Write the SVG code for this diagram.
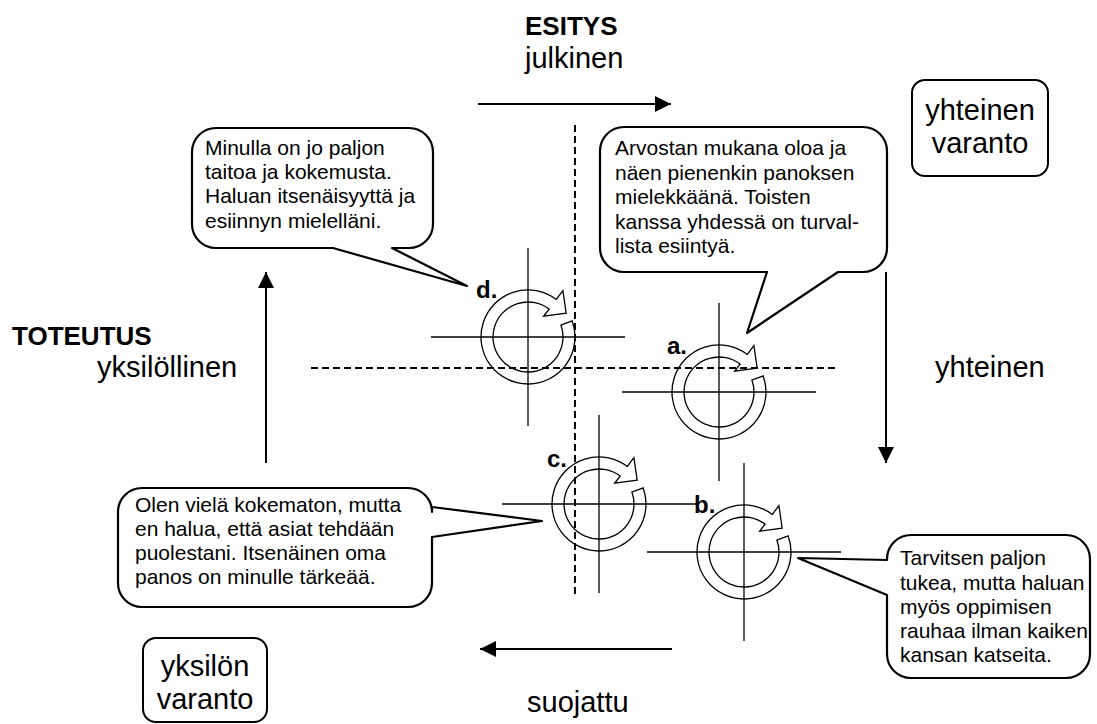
<svg xmlns="http://www.w3.org/2000/svg" width="1097" height="724" viewBox="0 0 1097 724">
  <style>
    .t { font-family: "Liberation Sans", Arial, sans-serif; fill: #000; }
    .lbl { font-size: 29px; }
    .head { font-size: 26px; font-weight: bold; }
    .mark { font-size: 24px; font-weight: bold; }
    .say { font-size: 21px; }
    .edge { stroke: #000; stroke-width: 2; fill: none; }
    .dash { stroke: #000; stroke-width: 2; stroke-dasharray: 7 4; fill: none; }
    .bubble { fill: #fff; stroke: #000; stroke-width: 2.2; stroke-linejoin: round; }
    .box { fill: #fff; stroke: #000; stroke-width: 2; }
    .cross { stroke: #000; stroke-width: 1.3; }
    .ring { fill: none; stroke: #000; stroke-width: 1.3; stroke-linejoin: miter; }
  </style>
  <defs>
    <marker id="tip" markerUnits="userSpaceOnUse" markerWidth="16" markerHeight="16" refX="16" refY="8" orient="auto">
      <path d="M0,0 L16,8 L0,16 Z" fill="#000"/>
    </marker>
    <!-- crosshair with a circular clockwise arrow -->
    <g id="cycle">
      <line class="cross" x1="-97" y1="0" x2="97" y2="0"/>
      <line class="cross" x1="0" y1="-89" x2="0" y2="89"/>
      <path class="ring" d="M44.17,-16.07 A47,47 0 1 1 28.29,-37.54 L34.9,-46.32 L38.16,-23.85 L15.65,-20.76 L21.06,-27.95 A35,35 0 1 0 32.89,-11.97 Z"/>
    </g>
  </defs>

  <!-- axes and dashed quadrant lines -->
  <g id="connectors">
    <line class="dash" x1="575" y1="125" x2="575" y2="598"/>
    <line class="dash" x1="311" y1="368" x2="836" y2="368"/>
    <line class="edge" x1="478" y1="104" x2="671" y2="104" marker-end="url(#tip)"/>
    <line class="edge" x1="886" y1="272" x2="886" y2="463" marker-end="url(#tip)"/>
    <line class="edge" x1="672" y1="649" x2="480" y2="649" marker-end="url(#tip)"/>
    <line class="edge" x1="266" y1="463" x2="266" y2="272" marker-end="url(#tip)"/>
  </g>

  <!-- axis captions -->
  <g id="axis-top">
    <text class="t head" x="525" y="35">ESITYS</text>
    <text class="t lbl" x="525" y="68">julkinen</text>
  </g>
  <g id="axis-left">
    <text class="t head" x="12" y="345">TOTEUTUS</text>
    <text class="t lbl" x="97" y="377">yksilöllinen</text>
  </g>
  <g id="axis-right">
    <text class="t lbl" x="935" y="377">yhteinen</text>
  </g>
  <g id="axis-bottom">
    <text class="t lbl" x="527" y="712">suojattu</text>
  </g>

  <g id="box-shared">
    <rect class="box" x="912" y="80" width="136" height="96" rx="13"/>
    <text class="t lbl" x="980" y="120" text-anchor="middle">yhteinen</text>
    <text class="t lbl" x="980" y="153" text-anchor="middle">varanto</text>
  </g>
  <g id="box-individual">
    <rect class="box" x="143" y="638" width="124" height="84" rx="13"/>
    <text class="t lbl" x="205" y="676" text-anchor="middle">yksilön</text>
    <text class="t lbl" x="205" y="709" text-anchor="middle">varanto</text>
  </g>

  <!-- four positions -->
  <g id="node-d">
    <use href="#cycle" x="528" y="337"/>
    <text class="t mark" x="476" y="298">d.</text>
  </g>
  <g id="node-a">
    <use href="#cycle" x="719" y="392"/>
    <text class="t mark" x="667" y="354">a.</text>
  </g>
  <g id="node-c">
    <use href="#cycle" x="599" y="504"/>
    <text class="t mark" x="547" y="467">c.</text>
  </g>
  <g id="node-b">
    <use href="#cycle" x="744" y="552"/>
    <text class="t mark" x="694" y="513">b.</text>
  </g>

  <!-- speech bubbles -->
  <g id="bubble-d">
    <path class="bubble" d="M216,128 H409 A24,24 0 0 1 433,152 V224 A24,24 0 0 1 409,248 H392 L467,286 L333,248 H216 A24,24 0 0 1 192,224 V152 A24,24 0 0 1 216,128 Z"/>
    <text class="t say" x="205" y="155">Minulla on jo paljon</text>
    <text class="t say" x="205" y="179">taitoa ja kokemusta.</text>
    <text class="t say" x="205" y="203">Haluan itsenäisyyttä ja</text>
    <text class="t say" x="205" y="228">esiinnyn mielelläni.</text>
  </g>
  <g id="bubble-a">
    <path class="bubble" d="M624,127 H863 A24,24 0 0 1 887,151 V248 A24,24 0 0 1 863,272 H838 L747,333 L767,272 H624 A24,24 0 0 1 600,248 V151 A24,24 0 0 1 624,127 Z"/>
    <text class="t say" x="615" y="155">Arvostan mukana oloa ja</text>
    <text class="t say" x="615" y="180">näen pienenkin panoksen</text>
    <text class="t say" x="615" y="204">mielekkäänä. Toisten</text>
    <text class="t say" x="615" y="229">kanssa yhdessä on turval-</text>
    <text class="t say" x="615" y="253">lista esiintyä.</text>
  </g>
  <g id="bubble-c">
    <path class="bubble" d="M142,488 H408 A24,24 0 0 1 432,512 V507 L542,521 L432,537 V583 A24,24 0 0 1 408,607 H142 A24,24 0 0 1 118,583 V512 A24,24 0 0 1 142,488 Z"/>
    <text class="t say" x="135" y="512">Olen vielä kokematon, mutta</text>
    <text class="t say" x="135" y="536">en halua, että asiat tehdään</text>
    <text class="t say" x="135" y="560">puolestani. Itsenäinen oma</text>
    <text class="t say" x="135" y="584">panos on minulle tärkeää.</text>
  </g>
  <g id="bubble-b">
    <path class="bubble" d="M911,535 H1066 A24,24 0 0 1 1090,559 V654 A24,24 0 0 1 1066,678 H911 A24,24 0 0 1 887,654 V595 L798,558 L887,560 V559 A24,24 0 0 1 911,535 Z"/>
    <text class="t say" x="900" y="565">Tarvitsen paljon</text>
    <text class="t say" x="900" y="590">tukea, mutta haluan</text>
    <text class="t say" x="900" y="614">myös oppimisen</text>
    <text class="t say" x="900" y="638">rauhaa ilman kaiken</text>
    <text class="t say" x="900" y="662">kansan katseita.</text>
  </g>
</svg>
